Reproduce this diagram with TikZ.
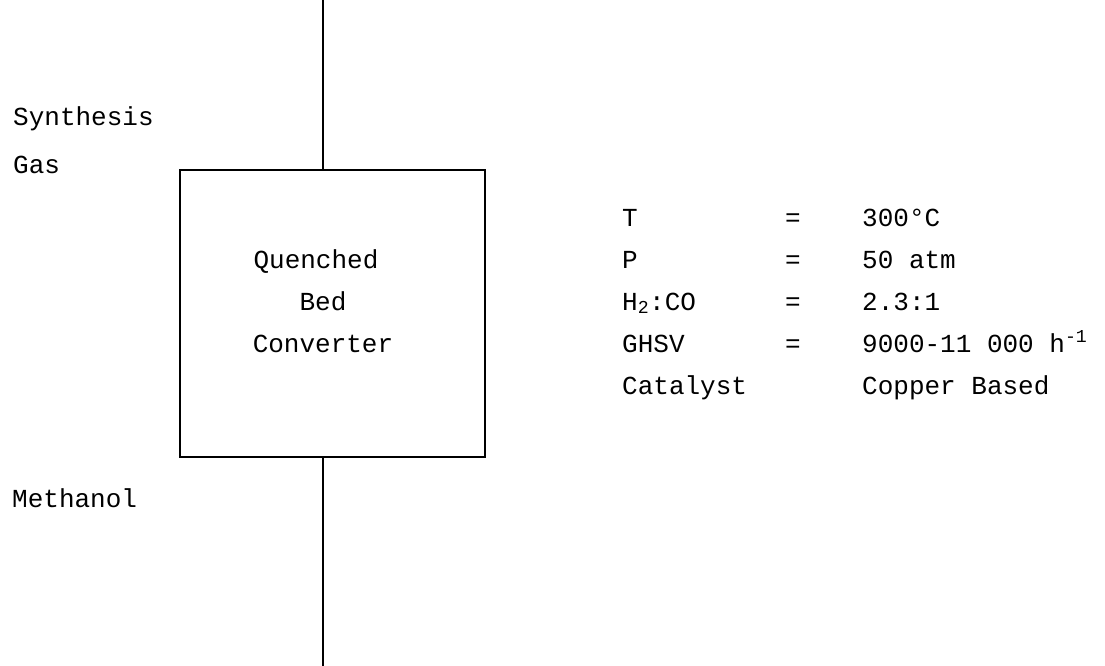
\documentclass[tikz,border=0pt]{standalone}
\usepackage{fontspec}
\setmainfont{Liberation Mono}
\usepackage{tikz}
\usetikzlibrary{positioning,calc}

\begin{document}
\begin{tikzpicture}[x=1pt,y=-1pt]
\tikzset{
 t/.style={anchor=base west,inner sep=0pt,font=\fontsize{26}{30}\selectfont},
 c/.style={anchor=base,inner sep=0pt,font=\fontsize{26}{30}\selectfont},
 ln/.style={line width=2.6pt,black}
}
\useasboundingbox (0,0) rectangle (1105,666);
\node[ln,draw,minimum width=305pt,minimum height=287pt,inner sep=0pt] (conv) at (332.5,313.5) {};
\coordinate (gasin) at (323,0);
\coordinate (meout) at (323,666);
\draw[ln] (gasin) -- (gasin |- conv.north);
\draw[ln] (meout |- conv.south) -- (meout);
% labels
\node[t] (syn) at (13,125) {Synthesis};
\node[t] (gas) at (13,173) {Gas};
\node[t] (meth) at (12,507) {Methanol};
\node[c] (q1) at (316,268) {Quenched};
\node[c] (q2) at (323,310) {Bed};
\node[c] (q3) at (323,352) {Converter};
% conditions
\node[t] (k1) at (622,226) {T};
\node[t] (k2) at (622,268) {P};
\node[t] (k3) at (622,310) {H\textsubscript{2}:CO};
\node[t] (k4) at (622,352) {GHSV};
\node[t] (k5) at (622,394) {Catalyst};
\foreach \y/\n in {226/1,268/2,310/3,352/4}{\node[t] (e\n) at (785,\y) {=};}
\node[t] (v1) at (862,226) {300°C};
\node[t] (v2) at (862,268) {50 atm};
\node[t] (v3) at (862,310) {2.3:1};
\node[t] (v4) at (862,352) {9000-11 000 h\textsuperscript{-1}};
\node[t] (v5) at (862,394) {Copper Based};
\end{tikzpicture}
\end{document}
